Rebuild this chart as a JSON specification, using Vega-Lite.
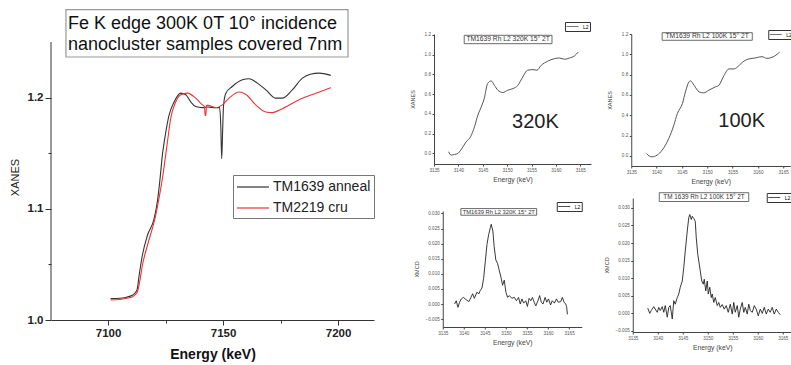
{
  "$schema": "https://vega.github.io/schema/vega-lite/v6.json",
  "background": "white",
  "padding": {"left": 9, "top": 8, "right": 0, "bottom": 0},
  "config": {"view": {"stroke": null}, "font": "Liberation Sans", "axis": {"grid": false}},
  "resolve": {"scale": {"color": "independent"}, "legend": {"color": "independent"}},
  "datasets": {
    "main": [
      {"energy": 7101.1, "xanes": 1.0192, "sample": "TM1639 anneal"},
      {"energy": 7105, "xanes": 1.0195, "sample": "TM1639 anneal"},
      {"energy": 7108, "xanes": 1.0205, "sample": "TM1639 anneal"},
      {"energy": 7110.5, "xanes": 1.0222, "sample": "TM1639 anneal"},
      {"energy": 7112, "xanes": 1.025, "sample": "TM1639 anneal"},
      {"energy": 7112.7, "xanes": 1.028, "sample": "TM1639 anneal"},
      {"energy": 7113.5, "xanes": 1.04, "sample": "TM1639 anneal"},
      {"energy": 7114.9, "xanes": 1.058, "sample": "TM1639 anneal"},
      {"energy": 7117.1, "xanes": 1.076, "sample": "TM1639 anneal"},
      {"energy": 7120, "xanes": 1.091, "sample": "TM1639 anneal"},
      {"energy": 7121.4, "xanes": 1.106, "sample": "TM1639 anneal"},
      {"energy": 7122.5, "xanes": 1.125, "sample": "TM1639 anneal"},
      {"energy": 7123.6, "xanes": 1.148, "sample": "TM1639 anneal"},
      {"energy": 7125.1, "xanes": 1.169, "sample": "TM1639 anneal"},
      {"energy": 7126.5, "xanes": 1.184, "sample": "TM1639 anneal"},
      {"energy": 7128.7, "xanes": 1.196, "sample": "TM1639 anneal"},
      {"energy": 7131.6, "xanes": 1.204, "sample": "TM1639 anneal"},
      {"energy": 7133.8, "xanes": 1.2025, "sample": "TM1639 anneal"},
      {"energy": 7136, "xanes": 1.196, "sample": "TM1639 anneal"},
      {"energy": 7138.1, "xanes": 1.192, "sample": "TM1639 anneal"},
      {"energy": 7141, "xanes": 1.191, "sample": "TM1639 anneal"},
      {"energy": 7143, "xanes": 1.1915, "sample": "TM1639 anneal"},
      {"energy": 7146.8, "xanes": 1.191, "sample": "TM1639 anneal"},
      {"energy": 7148.5, "xanes": 1.191, "sample": "TM1639 anneal"},
      {"energy": 7149.0, "xanes": 1.175, "sample": "TM1639 anneal"},
      {"energy": 7149.4, "xanes": 1.145, "sample": "TM1639 anneal"},
      {"energy": 7149.8, "xanes": 1.17, "sample": "TM1639 anneal"},
      {"energy": 7150.2, "xanes": 1.193, "sample": "TM1639 anneal"},
      {"energy": 7151.2, "xanes": 1.204, "sample": "TM1639 anneal"},
      {"energy": 7154, "xanes": 1.21, "sample": "TM1639 anneal"},
      {"energy": 7158.4, "xanes": 1.216, "sample": "TM1639 anneal"},
      {"energy": 7161.3, "xanes": 1.217, "sample": "TM1639 anneal"},
      {"energy": 7164.9, "xanes": 1.213, "sample": "TM1639 anneal"},
      {"energy": 7168.6, "xanes": 1.207, "sample": "TM1639 anneal"},
      {"energy": 7172.9, "xanes": 1.1995, "sample": "TM1639 anneal"},
      {"energy": 7175.8, "xanes": 1.1995, "sample": "TM1639 anneal"},
      {"energy": 7180.1, "xanes": 1.207, "sample": "TM1639 anneal"},
      {"energy": 7184.5, "xanes": 1.2175, "sample": "TM1639 anneal"},
      {"energy": 7188, "xanes": 1.221, "sample": "TM1639 anneal"},
      {"energy": 7191.7, "xanes": 1.222, "sample": "TM1639 anneal"},
      {"energy": 7196.8, "xanes": 1.22, "sample": "TM1639 anneal"},
      {"energy": 7101.1, "xanes": 1.018, "sample": "TM2219 cru"},
      {"energy": 7105, "xanes": 1.0185, "sample": "TM2219 cru"},
      {"energy": 7108, "xanes": 1.0195, "sample": "TM2219 cru"},
      {"energy": 7110.5, "xanes": 1.0207, "sample": "TM2219 cru"},
      {"energy": 7112.7, "xanes": 1.025, "sample": "TM2219 cru"},
      {"energy": 7113.8, "xanes": 1.035, "sample": "TM2219 cru"},
      {"energy": 7114.9, "xanes": 1.049, "sample": "TM2219 cru"},
      {"energy": 7117.1, "xanes": 1.067, "sample": "TM2219 cru"},
      {"energy": 7120.7, "xanes": 1.094, "sample": "TM2219 cru"},
      {"energy": 7122.2, "xanes": 1.11, "sample": "TM2219 cru"},
      {"energy": 7123.6, "xanes": 1.127, "sample": "TM2219 cru"},
      {"energy": 7125.8, "xanes": 1.16, "sample": "TM2219 cru"},
      {"energy": 7127.2, "xanes": 1.181, "sample": "TM2219 cru"},
      {"energy": 7129.4, "xanes": 1.196, "sample": "TM2219 cru"},
      {"energy": 7131.6, "xanes": 1.2025, "sample": "TM2219 cru"},
      {"energy": 7134.5, "xanes": 1.204, "sample": "TM2219 cru"},
      {"energy": 7138.1, "xanes": 1.1995, "sample": "TM2219 cru"},
      {"energy": 7141, "xanes": 1.1935, "sample": "TM2219 cru"},
      {"energy": 7141.9, "xanes": 1.192, "sample": "TM2219 cru"},
      {"energy": 7142.2, "xanes": 1.184, "sample": "TM2219 cru"},
      {"energy": 7142.5, "xanes": 1.184, "sample": "TM2219 cru"},
      {"energy": 7142.8, "xanes": 1.193, "sample": "TM2219 cru"},
      {"energy": 7143.5, "xanes": 1.193, "sample": "TM2219 cru"},
      {"energy": 7146.8, "xanes": 1.191, "sample": "TM2219 cru"},
      {"energy": 7149.7, "xanes": 1.1935, "sample": "TM2219 cru"},
      {"energy": 7152.6, "xanes": 1.1995, "sample": "TM2219 cru"},
      {"energy": 7157, "xanes": 1.205, "sample": "TM2219 cru"},
      {"energy": 7159.8, "xanes": 1.203, "sample": "TM2219 cru"},
      {"energy": 7164.2, "xanes": 1.1935, "sample": "TM2219 cru"},
      {"energy": 7168.6, "xanes": 1.187, "sample": "TM2219 cru"},
      {"energy": 7171.4, "xanes": 1.1865, "sample": "TM2219 cru"},
      {"energy": 7175.8, "xanes": 1.19, "sample": "TM2219 cru"},
      {"energy": 7183, "xanes": 1.198, "sample": "TM2219 cru"},
      {"energy": 7190.3, "xanes": 1.204, "sample": "TM2219 cru"},
      {"energy": 7196.8, "xanes": 1.209, "sample": "TM2219 cru"}
    ],
    "xanes320": [
      {"energy": 3138.0, "xanes": 0.017}, {"energy": 3138.5, "xanes": -0.017}, {"energy": 3139.2, "xanes": -0.01},
      {"energy": 3139.9, "xanes": 0.0}, {"energy": 3140.5, "xanes": 0.034}, {"energy": 3141.6, "xanes": 0.118},
      {"energy": 3142.5, "xanes": 0.169}, {"energy": 3143.3, "xanes": 0.27}, {"energy": 3144.0, "xanes": 0.388},
      {"energy": 3144.7, "xanes": 0.472}, {"energy": 3145.3, "xanes": 0.556}, {"energy": 3146.0, "xanes": 0.708},
      {"energy": 3146.7, "xanes": 0.735}, {"energy": 3147.4, "xanes": 0.69}, {"energy": 3148.1, "xanes": 0.64},
      {"energy": 3149.1, "xanes": 0.617}, {"energy": 3150.1, "xanes": 0.64}, {"energy": 3151.2, "xanes": 0.657},
      {"energy": 3152.2, "xanes": 0.69}, {"energy": 3153.2, "xanes": 0.775}, {"energy": 3154.2, "xanes": 0.843},
      {"energy": 3155.3, "xanes": 0.849}, {"energy": 3156.1, "xanes": 0.843}, {"energy": 3157.0, "xanes": 0.893},
      {"energy": 3158.3, "xanes": 0.934}, {"energy": 3159.7, "xanes": 0.96}, {"energy": 3160.7, "xanes": 0.967},
      {"energy": 3161.8, "xanes": 0.954}, {"energy": 3162.8, "xanes": 0.967}, {"energy": 3163.8, "xanes": 0.988},
      {"energy": 3164.6, "xanes": 1.028}
    ],
    "xanes100": [
      {"energy": 3138.0, "xanes": 0.023}, {"energy": 3138.5, "xanes": 0.0}, {"energy": 3139.1, "xanes": -0.01},
      {"energy": 3140.1, "xanes": 0.007}, {"energy": 3141.1, "xanes": 0.056}, {"energy": 3142.4, "xanes": 0.17},
      {"energy": 3143.4, "xanes": 0.3}, {"energy": 3144.1, "xanes": 0.416}, {"energy": 3145.1, "xanes": 0.515},
      {"energy": 3145.7, "xanes": 0.63}, {"energy": 3146.4, "xanes": 0.728}, {"energy": 3146.7, "xanes": 0.738},
      {"energy": 3147.4, "xanes": 0.695}, {"energy": 3148.4, "xanes": 0.63}, {"energy": 3149.3, "xanes": 0.62},
      {"energy": 3150.3, "xanes": 0.646}, {"energy": 3151.6, "xanes": 0.679}, {"energy": 3152.3, "xanes": 0.695},
      {"energy": 3153.3, "xanes": 0.79}, {"energy": 3154.3, "xanes": 0.856}, {"energy": 3155.3, "xanes": 0.856},
      {"energy": 3155.9, "xanes": 0.872}, {"energy": 3156.9, "xanes": 0.92}, {"energy": 3158.2, "xanes": 0.954},
      {"energy": 3159.5, "xanes": 0.964}, {"energy": 3160.8, "xanes": 0.977}, {"energy": 3161.8, "xanes": 0.96},
      {"energy": 3162.8, "xanes": 0.97}, {"energy": 3163.8, "xanes": 1.0}, {"energy": 3164.3, "xanes": 1.022}
    ],
    "xmcd320": [
      {"energy": 3137.8, "xmcd": 0.0}, {"energy": 3138.2, "xmcd": 0.0011}, {"energy": 3138.6, "xmcd": -0.0011},
      {"energy": 3139.0, "xmcd": 0.0006}, {"energy": 3139.4, "xmcd": 0.0017}, {"energy": 3139.9, "xmcd": 0.0022},
      {"energy": 3140.5, "xmcd": 0.0015}, {"energy": 3141.2, "xmcd": 0.0008}, {"energy": 3141.7, "xmcd": 0.0022},
      {"energy": 3142.1, "xmcd": 0.0034}, {"energy": 3142.5, "xmcd": 0.0019}, {"energy": 3143.1, "xmcd": 0.0039},
      {"energy": 3143.6, "xmcd": 0.0034}, {"energy": 3143.9, "xmcd": 0.0045}, {"energy": 3144.3, "xmcd": 0.0053},
      {"energy": 3144.7, "xmcd": 0.0084}, {"energy": 3145.1, "xmcd": 0.014}, {"energy": 3145.5, "xmcd": 0.0197},
      {"energy": 3145.9, "xmcd": 0.023}, {"energy": 3146.3, "xmcd": 0.0253}, {"energy": 3146.5, "xmcd": 0.0264},
      {"energy": 3146.9, "xmcd": 0.0242}, {"energy": 3147.2, "xmcd": 0.0191}, {"energy": 3147.6, "xmcd": 0.0146},
      {"energy": 3148.0, "xmcd": 0.0135}, {"energy": 3148.4, "xmcd": 0.0112}, {"energy": 3148.8, "xmcd": 0.009},
      {"energy": 3149.2, "xmcd": 0.0062}, {"energy": 3149.6, "xmcd": 0.0079}, {"energy": 3150.0, "xmcd": 0.0039},
      {"energy": 3150.4, "xmcd": 0.0022}, {"energy": 3150.8, "xmcd": 0.0028}, {"energy": 3151.4, "xmcd": 0.0019},
      {"energy": 3152.0, "xmcd": 0.0022}, {"energy": 3152.5, "xmcd": 0.0011}, {"energy": 3153.0, "xmcd": 0.0022},
      {"energy": 3153.4, "xmcd": 0.0}, {"energy": 3153.8, "xmcd": 0.0017}, {"energy": 3154.2, "xmcd": 0.0003},
      {"energy": 3154.7, "xmcd": 0.0011}, {"energy": 3155.1, "xmcd": -0.0008}, {"energy": 3155.5, "xmcd": 0.0019},
      {"energy": 3155.9, "xmcd": 0.0011}, {"energy": 3156.3, "xmcd": 0.0022}, {"energy": 3156.7, "xmcd": 0.0006},
      {"energy": 3157.1, "xmcd": -0.0006}, {"energy": 3157.6, "xmcd": 0.0011}, {"energy": 3158.0, "xmcd": 0.0028},
      {"energy": 3158.4, "xmcd": 0.0006}, {"energy": 3158.8, "xmcd": 0.0}, {"energy": 3159.3, "xmcd": 0.0022},
      {"energy": 3159.7, "xmcd": 0.0006}, {"energy": 3160.1, "xmcd": 0.0017}, {"energy": 3160.6, "xmcd": -0.0003},
      {"energy": 3161.0, "xmcd": 0.0011}, {"energy": 3161.5, "xmcd": 0.0003}, {"energy": 3162.0, "xmcd": 0.0017},
      {"energy": 3162.4, "xmcd": 0.0006}, {"energy": 3163.0, "xmcd": 0.0008}, {"energy": 3163.4, "xmcd": 0.0022},
      {"energy": 3163.8, "xmcd": 0.0006}, {"energy": 3164.2, "xmcd": 0.0}, {"energy": 3164.4, "xmcd": -0.0008},
      {"energy": 3164.6, "xmcd": -0.0034}
    ],
    "xmcd100": [
      {"energy": 3138.0, "xmcd": 0.0015}, {"energy": 3138.4, "xmcd": 0.0}, {"energy": 3138.7, "xmcd": 0.0008},
      {"energy": 3139.2, "xmcd": 0.0019}, {"energy": 3139.5, "xmcd": 0.0012}, {"energy": 3139.9, "xmcd": 0.0003},
      {"energy": 3140.2, "xmcd": 0.0017}, {"energy": 3140.5, "xmcd": 0.0008}, {"energy": 3140.9, "xmcd": 0.0019},
      {"energy": 3141.2, "xmcd": 0.0003}, {"energy": 3141.5, "xmcd": 0.0022}, {"energy": 3141.9, "xmcd": -0.0011},
      {"energy": 3142.2, "xmcd": 0.0017}, {"energy": 3142.5, "xmcd": 0.0022}, {"energy": 3142.9, "xmcd": -0.0016},
      {"energy": 3143.2, "xmcd": 0.0036}, {"energy": 3143.5, "xmcd": 0.0026}, {"energy": 3143.9, "xmcd": 0.0045},
      {"energy": 3144.2, "xmcd": 0.0055}, {"energy": 3144.5, "xmcd": 0.0074}, {"energy": 3144.9, "xmcd": 0.0092},
      {"energy": 3145.2, "xmcd": 0.013}, {"energy": 3145.5, "xmcd": 0.0177}, {"energy": 3145.9, "xmcd": 0.0234},
      {"energy": 3146.2, "xmcd": 0.0272}, {"energy": 3146.4, "xmcd": 0.0281}, {"energy": 3146.7, "xmcd": 0.0267},
      {"energy": 3146.9, "xmcd": 0.0276}, {"energy": 3147.2, "xmcd": 0.027}, {"energy": 3147.5, "xmcd": 0.0262},
      {"energy": 3147.7, "xmcd": 0.0215}, {"energy": 3148.0, "xmcd": 0.0168}, {"energy": 3148.3, "xmcd": 0.014},
      {"energy": 3148.5, "xmcd": 0.0121}, {"energy": 3148.8, "xmcd": 0.0092}, {"energy": 3149.1, "xmcd": 0.0083},
      {"energy": 3149.3, "xmcd": 0.0097}, {"energy": 3149.6, "xmcd": 0.0064}, {"energy": 3149.9, "xmcd": 0.0092},
      {"energy": 3150.1, "xmcd": 0.0055}, {"energy": 3150.4, "xmcd": 0.0074}, {"energy": 3150.7, "xmcd": 0.0045},
      {"energy": 3150.9, "xmcd": 0.0055}, {"energy": 3151.2, "xmcd": 0.0031}, {"energy": 3151.5, "xmcd": 0.0045},
      {"energy": 3151.9, "xmcd": 0.0022}, {"energy": 3152.2, "xmcd": 0.0031}, {"energy": 3152.5, "xmcd": 0.0017},
      {"energy": 3152.9, "xmcd": 0.0025}, {"energy": 3153.3, "xmcd": 0.0012}, {"energy": 3153.7, "xmcd": 0.0022},
      {"energy": 3154.1, "xmcd": 0.0003}, {"energy": 3154.5, "xmcd": 0.0026}, {"energy": 3154.9, "xmcd": -0.0002},
      {"energy": 3155.2, "xmcd": 0.0031}, {"energy": 3155.5, "xmcd": 0.0003}, {"energy": 3155.9, "xmcd": 0.0022},
      {"energy": 3156.2, "xmcd": -0.0011}, {"energy": 3156.5, "xmcd": 0.0012}, {"energy": 3156.9, "xmcd": 0.0031},
      {"energy": 3157.2, "xmcd": 0.0003}, {"energy": 3157.5, "xmcd": 0.0017}, {"energy": 3157.9, "xmcd": -0.0002},
      {"energy": 3158.2, "xmcd": 0.0026}, {"energy": 3158.5, "xmcd": 0.0008}, {"energy": 3158.9, "xmcd": 0.0003},
      {"energy": 3159.3, "xmcd": 0.0022}, {"energy": 3159.7, "xmcd": 0.0012}, {"energy": 3160.1, "xmcd": -0.0007},
      {"energy": 3160.5, "xmcd": 0.0012}, {"energy": 3160.9, "xmcd": 0.0}, {"energy": 3161.3, "xmcd": 0.0017},
      {"energy": 3161.7, "xmcd": -0.0002}, {"energy": 3162.1, "xmcd": 0.0012}, {"energy": 3162.5, "xmcd": 0.0003},
      {"energy": 3162.9, "xmcd": 0.0017}, {"energy": 3163.3, "xmcd": -0.0002}, {"energy": 3163.7, "xmcd": 0.0012},
      {"energy": 3164.1, "xmcd": 0.0003}, {"energy": 3164.5, "xmcd": -0.0004}
    ]
  },
  "hconcat": [
    {
      "width": 323,
      "height": 286,
      "layer": [
        {
          "data": {"name": "main"},
          "mark": {"type": "line", "interpolate": "monotone", "strokeWidth": 1.1},
          "encoding": {
            "x": {"field": "energy", "type": "quantitative",
              "scale": {"domain": [7075.2, 7215.6], "nice": false, "zero": false},
              "axis": {"values": [7100, 7125, 7150, 7175, 7200], "tickCount": 50, "title": "Energy (keV)", "titleFontSize": 14, "titleFontWeight": "bold", "titleColor": "#111", "titlePadding": 9,
                "labelExpr": "datum.value % 50 === 0 ? format(datum.value, 'd') : ''", "labelFontSize": 11.5, "labelColor": "#222", "labelPadding": 2, "labelFontWeight": "bold",
                "tickSize": {"condition": {"test": "datum.value % 50 === 0", "value": 5}, "value": 3}, "tickColor": "#333", "domainColor": "#333"}},
            "y": {"field": "xanes", "type": "quantitative",
              "scale": {"domain": [1.0, 1.2572], "nice": false, "zero": false},
              "axis": {"values": [1.0, 1.05, 1.1, 1.15, 1.2], "tickCount": 50, "title": "XANES", "titleFontSize": 11, "titleFontWeight": "normal", "titleColor": "#222", "titlePadding": 7,
                "labelExpr": "abs(datum.value * 10 - round(datum.value * 10)) < 0.001 ? format(datum.value, '.1f') : ''", "labelFontSize": 11.5, "labelColor": "#222", "labelPadding": 2, "labelFontWeight": "bold",
                "tickSize": {"condition": {"test": "abs(datum.value * 10 - round(datum.value * 10)) < 0.001", "value": 6}, "value": 3}, "tickColor": "#333", "domain": false}},
            "color": {"field": "sample", "type": "nominal",
              "scale": {"domain": ["TM1639 anneal", "TM2219 cru"], "range": ["#333333", "#ee3333"]},
              "legend": {"orient": "none", "legendX": 182, "legendY": 141, "title": null, "strokeColor": "#777", "padding": 3, "rowPadding": 5,
                "labelFontSize": 14, "labelColor": "#222", "labelOffset": 11, "symbolType": "M-2,0L2,0", "symbolSize": 256, "symbolOffset": 8, "symbolStrokeWidth": 1.2}}
          }
        },
        {
          "data": {"values": [{}]},
          "mark": {"type": "rule", "color": "#333", "strokeWidth": 1},
          "encoding": {"x": {"datum": 7075.2}, "y": {"datum": 1.0}, "y2": {"datum": 1.25}}
        },
        {
          "data": {"values": [{}]},
          "mark": {"type": "rect", "fill": "white", "stroke": "#999", "strokeWidth": 1.2},
          "encoding": {"x": {"datum": 7081.7}, "x2": {"datum": 7204.3}, "y": {"datum": 1.2792}, "y2": {"datum": 1.2365}}
        },
        {
          "data": {"values": [{}]},
          "mark": {"type": "text", "align": "left", "baseline": "middle", "fontSize": 18, "color": "#111", "lineHeight": 21.5},
          "encoding": {"x": {"datum": 7082.6}, "y": {"datum": 1.2665}, "text": {"value": ["Fe K edge 300K 0T 10° incidence", "nanocluster samples covered 7nm"]}}
        }
      ]
    },
    {
      "spacing": 13,
      "resolve": {"scale": {"color": "independent"}, "legend": {"color": "independent"}},
      "hconcat": [
        {
          "spacing": 18,
          "center": true,
          "resolve": {"scale": {"color": "independent"}, "legend": {"color": "independent"}},
          "vconcat": [
            {
              "width": 157,
              "height": 130,
              "layer": [
                {
                  "data": {"name": "xanes320"},
                  "mark": {"type": "line", "interpolate": "monotone", "strokeWidth": 1},
                  "encoding": {
                    "x": {"field": "energy", "type": "quantitative", "scale": {"domain": [3135, 3167.2], "nice": false, "zero": false},
                      "axis": {"values": [3135, 3140, 3145, 3150, 3155, 3160, 3165], "tickCount": 50, "format": "d", "title": "Energy (keV)", "titleFontSize": 6.8, "titleFontWeight": "normal", "titleColor": "#444", "titlePadding": 4,
                        "labelFontSize": 4.6, "labelColor": "#555", "labelPadding": 1.5, "labelOverlap": false, "labelFlush": false, "tickSize": 2, "tickColor": "#444", "domainColor": "#444"}},
                    "y": {"field": "xanes", "type": "quantitative", "scale": {"domain": [-0.107, 1.21], "nice": false, "zero": false},
                      "axis": {"values": [0, 0.2, 0.4, 0.6, 0.8, 1.0, 1.2], "tickCount": 50, "format": ".1f", "title": "XANES", "titleFontSize": 5.5, "titleFontWeight": "normal", "titleColor": "#444", "titlePadding": 9,
                        "labelFontSize": 4.6, "labelColor": "#555", "labelPadding": 1.5, "labelOverlap": false, "labelFlush": false, "tickSize": 2, "tickColor": "#444", "domainColor": "#444"}},
                    "color": {"datum": "L2", "type": "nominal", "scale": {"range": ["#555555"]},
                      "legend": {"orient": "none", "legendX": 131, "legendY": -12, "title": null, "strokeColor": "#333", "padding": 1, "labelFontSize": 5, "labelOffset": 7, "symbolType": "M-2,0L2,0", "symbolSize": 36, "symbolOffset": 3, "symbolStrokeWidth": 0.8, "symbolStrokeColor": "#222"}}
                  }
                },
                {
                  "data": {"values": [{}]},
                  "mark": {"type": "rect", "fill": "white", "stroke": "#444", "strokeWidth": 0.8},
                  "encoding": {"x": {"datum": 3141.2}, "x2": {"datum": 3159.2}, "y": {"datum": 1.197}, "y2": {"datum": 1.112}}
                },
                {
                  "data": {"values": [{}]},
                  "mark": {"type": "text", "align": "center", "baseline": "middle", "fontSize": 6.7, "color": "#333"},
                  "encoding": {"x": {"datum": 3150.2}, "y": {"datum": 1.155}, "text": {"value": "TM1639 Rh L2 320K 15° 2T"}}
                },
                {
                  "data": {"values": [{}]},
                  "mark": {"type": "text", "align": "center", "baseline": "middle", "fontSize": 20, "color": "#222"},
                  "encoding": {"x": {"datum": 3155.8}, "y": {"datum": 0.32}, "text": {"value": "320K"}}
                }
              ]
            },
            {
              "width": 139,
              "height": 116,
              "layer": [
                {
                  "data": {"name": "xmcd320"},
                  "mark": {"type": "line", "strokeWidth": 0.9},
                  "encoding": {
                    "x": {"field": "energy", "type": "quantitative", "scale": {"domain": [3135, 3168], "nice": false, "zero": false},
                      "axis": {"values": [3135, 3140, 3145, 3150, 3155, 3160, 3165], "tickCount": 50, "format": "d", "title": "Energy (keV)", "titleFontSize": 6.8, "titleFontWeight": "normal", "titleColor": "#444", "titlePadding": 4,
                        "labelFontSize": 4.6, "labelColor": "#555", "labelPadding": 1.5, "labelOverlap": false, "labelFlush": false, "tickSize": 2, "tickColor": "#444", "domainColor": "#444"}},
                    "y": {"field": "xmcd", "type": "quantitative", "scale": {"domain": [-0.0076, 0.0308], "nice": false, "zero": false},
                      "axis": {"values": [-0.005, 0, 0.005, 0.01, 0.015, 0.02, 0.025, 0.03], "tickCount": 50, "format": ".3f", "title": "XMCD", "titleFontSize": 5.5, "titleFontWeight": "normal", "titleColor": "#444", "titlePadding": 6,
                        "labelFontSize": 4.6, "labelColor": "#555", "labelPadding": 1.5, "labelOverlap": false, "labelFlush": false, "tickSize": 2, "tickColor": "#444", "domainColor": "#444"}},
                    "color": {"datum": "L2", "type": "nominal", "scale": {"range": ["#222222"]},
                      "legend": {"orient": "none", "legendX": 114, "legendY": -9, "title": null, "strokeColor": "#333", "padding": 1, "labelFontSize": 5, "labelOffset": 7, "symbolType": "M-2,0L2,0", "symbolSize": 36, "symbolOffset": 3, "symbolStrokeWidth": 0.8, "symbolStrokeColor": "#222"}}
                  }
                },
                {
                  "data": {"values": [{}]},
                  "mark": {"type": "rect", "fill": "white", "stroke": "#444", "strokeWidth": 0.8},
                  "encoding": {"x": {"datum": 3139.3}, "x2": {"datum": 3157.3}, "y": {"datum": 0.0316}, "y2": {"datum": 0.0294}}
                },
                {
                  "data": {"values": [{}]},
                  "mark": {"type": "text", "align": "center", "baseline": "middle", "fontSize": 5.8, "color": "#333"},
                  "encoding": {"x": {"datum": 3148.3}, "y": {"datum": 0.0305}, "text": {"value": "TM1639 Rh L2 320K 15° 2T"}}
                }
              ]
            }
          ]
        },
        {
          "spacing": 7,
          "center": true,
          "resolve": {"scale": {"color": "independent"}, "legend": {"color": "independent"}},
          "vconcat": [
            {
              "width": 159,
              "height": 132,
              "layer": [
                {
                  "data": {"name": "xanes100"},
                  "mark": {"type": "line", "interpolate": "monotone", "strokeWidth": 1},
                  "encoding": {
                    "x": {"field": "energy", "type": "quantitative", "scale": {"domain": [3135, 3166.4], "nice": false, "zero": false},
                      "axis": {"values": [3135, 3140, 3145, 3150, 3155, 3160, 3165], "tickCount": 50, "format": "d", "title": "Energy (keV)", "titleFontSize": 6.8, "titleFontWeight": "normal", "titleColor": "#444", "titlePadding": 4,
                        "labelFontSize": 4.6, "labelColor": "#555", "labelPadding": 1.5, "labelOverlap": false, "labelFlush": false, "tickSize": 2, "tickColor": "#444", "domainColor": "#444"}},
                    "y": {"field": "xanes", "type": "quantitative", "scale": {"domain": [-0.1, 1.2], "nice": false, "zero": false},
                      "axis": {"values": [0, 0.2, 0.4, 0.6, 0.8, 1.0, 1.2], "tickCount": 50, "format": ".1f", "title": "XANES", "titleFontSize": 5.5, "titleFontWeight": "normal", "titleColor": "#444", "titlePadding": 9,
                        "labelFontSize": 4.6, "labelColor": "#555", "labelPadding": 1.5, "labelOverlap": false, "labelFlush": false, "tickSize": 2, "tickColor": "#444", "domainColor": "#444"}},
                    "color": {"datum": "L2", "type": "nominal", "scale": {"range": ["#555555"]},
                      "legend": {"orient": "none", "legendX": 137, "legendY": -4, "title": null, "strokeColor": "#333", "padding": 1, "labelFontSize": 5, "labelOffset": 7, "symbolType": "M-2,0L2,0", "symbolSize": 36, "symbolOffset": 3, "symbolStrokeWidth": 0.8, "symbolStrokeColor": "#222"}}
                  }
                },
                {
                  "data": {"values": [{}]},
                  "mark": {"type": "rect", "fill": "white", "stroke": "#444", "strokeWidth": 0.8},
                  "encoding": {"x": {"datum": 3141.1}, "x2": {"datum": 3158.9}, "y": {"datum": 1.213}, "y2": {"datum": 1.138}}
                },
                {
                  "data": {"values": [{}]},
                  "mark": {"type": "text", "align": "center", "baseline": "middle", "fontSize": 6.7, "color": "#333"},
                  "encoding": {"x": {"datum": 3150.0}, "y": {"datum": 1.176}, "text": {"value": "TM1639 Rh L2 100K 15° 2T"}}
                },
                {
                  "data": {"values": [{}]},
                  "mark": {"type": "text", "align": "center", "baseline": "middle", "fontSize": 20, "color": "#222"},
                  "encoding": {"x": {"datum": 3156.8}, "y": {"datum": 0.345}, "text": {"value": "100K"}}
                }
              ]
            },
            {
              "width": 159,
              "height": 134,
              "layer": [
                {
                  "data": {"name": "xmcd100"},
                  "mark": {"type": "line", "strokeWidth": 0.9},
                  "encoding": {
                    "x": {"field": "energy", "type": "quantitative", "scale": {"domain": [3135, 3166.8], "nice": false, "zero": false},
                      "axis": {"values": [3135, 3140, 3145, 3150, 3155, 3160, 3165], "tickCount": 50, "format": "d", "title": "Energy (keV)", "titleFontSize": 6.8, "titleFontWeight": "normal", "titleColor": "#444", "titlePadding": 4,
                        "labelFontSize": 4.6, "labelColor": "#555", "labelPadding": 1.5, "labelOverlap": false, "labelFlush": false, "tickSize": 2, "tickColor": "#444", "domainColor": "#444"}},
                    "y": {"field": "xmcd", "type": "quantitative", "scale": {"domain": [-0.0053, 0.0328], "nice": false, "zero": false},
                      "axis": {"values": [-0.005, 0, 0.005, 0.01, 0.015, 0.02, 0.025, 0.03], "tickCount": 50, "format": ".3f", "title": "XMCD", "titleFontSize": 5.5, "titleFontWeight": "normal", "titleColor": "#444", "titlePadding": 6,
                        "labelFontSize": 4.6, "labelColor": "#555", "labelPadding": 1.5, "labelOverlap": false, "labelFlush": false, "tickSize": 2, "tickColor": "#444", "domainColor": "#444"}},
                    "color": {"datum": "L2", "type": "nominal", "scale": {"range": ["#222222"]},
                      "legend": {"orient": "none", "legendX": 134, "legendY": -5, "title": null, "strokeColor": "#333", "padding": 1, "labelFontSize": 5, "labelOffset": 7, "symbolType": "M-2,0L2,0", "symbolSize": 36, "symbolOffset": 3, "symbolStrokeWidth": 0.8, "symbolStrokeColor": "#222"}}
                  }
                },
                {
                  "data": {"values": [{}]},
                  "mark": {"type": "rect", "fill": "white", "stroke": "#444", "strokeWidth": 0.8},
                  "encoding": {"x": {"datum": 3140.3}, "x2": {"datum": 3158.2}, "y": {"datum": 0.0343}, "y2": {"datum": 0.0318}}
                },
                {
                  "data": {"values": [{}]},
                  "mark": {"type": "text", "align": "center", "baseline": "middle", "fontSize": 6.4, "color": "#333"},
                  "encoding": {"x": {"datum": 3149.25}, "y": {"datum": 0.03305}, "text": {"value": "TM 1639 Rh L2 100K 15° 2T"}}
                }
              ]
            }
          ]
        }
      ]
    }
  ],
  "spacing": 35
}
